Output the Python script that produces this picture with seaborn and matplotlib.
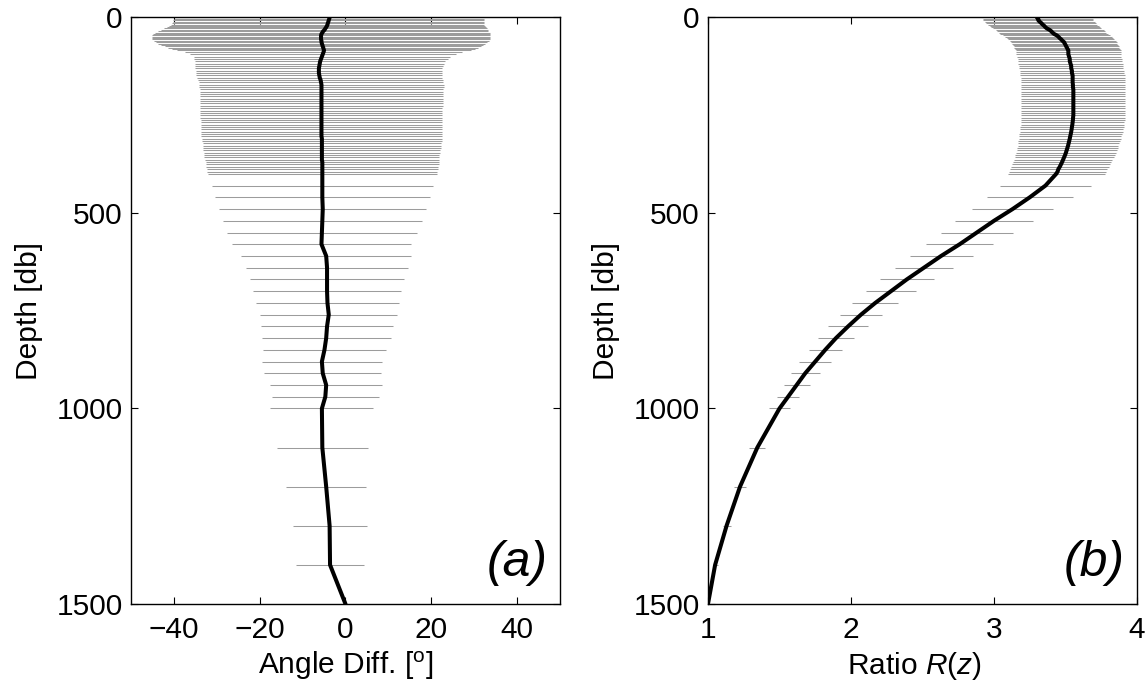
import numpy as np
import matplotlib
matplotlib.use("Agg")
import matplotlib.pyplot as plt
import seaborn as sns

# Pressure levels [db] of the profile statistics
depth = [
    0, 4, 7, 11, 14, 18, 21, 25, 28, 32, 35, 39, 42, 46, 49, 53, 56, 60, 63, 67,
    70, 74, 77, 81, 84, 88,
    94, 100, 106, 112, 118, 124, 130, 136, 142, 148, 154, 160, 166, 172, 178, 184,
    190, 196, 202, 208, 214, 220, 226, 232, 238, 244, 250, 256, 262, 268, 274, 280,
    286, 292, 298, 304, 310, 316, 322, 328, 334, 340, 346, 352, 358, 364, 370, 376,
    382, 388, 394, 400,
    430, 460, 490, 520, 550, 580, 610, 640, 670, 700, 730, 760, 790, 820, 850, 880,
    910, 940, 970, 1000,
    1100, 1200, 1300, 1400, 1500,
]

# (a) mean angle difference [deg] and its standard deviation
angle_mean = [
    -3.7, -3.8, -3.9, -4.0, -4.1, -4.2, -4.3, -4.5, -4.7, -4.9, -5.2, -5.4, -5.6,
    -5.7, -5.7, -5.7, -5.7, -5.6, -5.6, -5.5, -5.4, -5.3, -5.2, -5.1, -5.0, -5.1,
    -5.3, -5.5, -5.7, -5.9, -6.0, -6.1, -6.2, -6.2, -6.2, -6.1, -6.0, -5.8, -5.7,
    -5.6, -5.6, -5.6, -5.6, -5.6, -5.6, -5.6, -5.6, -5.6, -5.6, -5.6, -5.6, -5.6,
    -5.6, -5.6, -5.6, -5.6, -5.6, -5.6, -5.6, -5.6, -5.6, -5.6,
    -5.5, -5.5, -5.5, -5.5, -5.5, -5.5, -5.5, -5.5, -5.5, -5.5,
    -5.4, -5.4, -5.4, -5.4, -5.4, -5.4,
    -5.4, -5.4, -5.3, -5.4, -5.5, -5.6, -4.5, -4.3, -4.3, -4.3, -4.2, -3.9, -4.3,
    -4.5, -4.9, -5.5, -5.3, -4.5, -4.7, -5.5,
    -5.4, -4.5, -3.7, -3.6, 0.0,
]
angle_std = [
    36.2, 36.2, 36.3, 36.3, 36.4, 36.5, 36.8, 37.2, 37.6, 38.1, 38.5, 39.0, 39.3,
    39.5, 39.5, 39.5, 39.3, 39.0, 38.6, 38.1, 37.5, 36.8, 36.2, 35.4, 34.2, 32.3,
    31.0, 29.9, 29.5, 29.2, 29.0, 28.9, 28.8, 28.7, 28.7, 28.7, 28.6, 28.6, 28.5,
    28.5, 28.5, 28.4, 28.4, 28.4, 28.4, 28.3, 28.3, 28.3, 28.3, 28.2, 28.2, 28.2,
    28.2, 28.2, 28.1, 28.1, 28.1, 28.1, 28.1, 28.0, 28.0, 28.0, 27.9, 27.9, 27.8,
    27.8, 27.7, 27.6, 27.5, 27.4, 27.4, 27.3, 27.2, 27.1, 27.0, 26.9, 26.8, 26.7,
    25.7, 25.0, 24.1, 23.2, 22.1, 20.9, 19.8, 18.8, 18.0, 17.2, 16.6, 16.0, 15.4,
    15.0, 14.4, 14.0, 13.6, 13.1, 12.5, 12.0,
    10.6, 9.3, 8.6, 8.0, 0.0,
]

# (b) mean ratio R(z) and its standard deviation
ratio_mean = [
    3.30, 3.31, 3.31, 3.32, 3.33, 3.34, 3.35, 3.36, 3.37, 3.39, 3.40, 3.41, 3.42,
    3.44, 3.45, 3.46, 3.47, 3.48, 3.49, 3.495, 3.50, 3.505, 3.51, 3.515, 3.52, 3.52,
    3.52, 3.525, 3.53, 3.53, 3.535, 3.54, 3.54, 3.545, 3.545, 3.55, 3.55, 3.55,
    3.55, 3.552, 3.552, 3.555, 3.555, 3.555, 3.555, 3.555, 3.555, 3.555, 3.555,
    3.555, 3.555, 3.555, 3.555, 3.553, 3.552, 3.55, 3.548, 3.545, 3.543, 3.54,
    3.537, 3.533, 3.53, 3.526, 3.522, 3.518, 3.513, 3.508, 3.503, 3.497, 3.49,
    3.483, 3.476, 3.468, 3.46, 3.45, 3.445, 3.435,
    3.36, 3.25, 3.13, 3.00, 2.88, 2.76, 2.63, 2.51, 2.39, 2.28, 2.17, 2.07, 1.98,
    1.895, 1.82, 1.75, 1.68, 1.62, 1.56, 1.50,
    1.345, 1.224, 1.13, 1.05, 1.00,
]
ratio_std = [
    0.385, 0.385, 0.385, 0.384, 0.383, 0.382, 0.381, 0.380, 0.379, 0.378, 0.377,
    0.376, 0.375, 0.374, 0.373, 0.372, 0.371, 0.370, 0.369, 0.368, 0.368, 0.367,
    0.367, 0.366, 0.366, 0.366,
    0.366, 0.366, 0.365, 0.365, 0.365, 0.365, 0.365, 0.365, 0.365, 0.365,
    0.364, 0.364, 0.364, 0.364, 0.364, 0.364, 0.364, 0.364, 0.364, 0.364, 0.364,
    0.364, 0.364, 0.364, 0.364, 0.364, 0.364,
    0.363, 0.363, 0.362, 0.362, 0.361, 0.361, 0.360, 0.360,
    0.358, 0.357, 0.355, 0.354, 0.352, 0.351, 0.349, 0.348, 0.347, 0.346, 0.345,
    0.343, 0.342, 0.341, 0.340, 0.339, 0.338,
    0.32, 0.30, 0.285, 0.27, 0.25, 0.235, 0.22, 0.20, 0.19, 0.175, 0.16, 0.15,
    0.14, 0.125, 0.115, 0.11, 0.10, 0.09, 0.08, 0.075,
    0.055, 0.042, 0.028, 0.017, 0.0,
]

angle_ticks = [-40, -20, 0, 20, 40]
ratio_ticks = [1, 2, 3, 4]
depth_ticks = [0, 500, 1000, 1500]

sns.set_theme(style="white")
plt.rcParams["font.family"] = ["Liberation Sans", "DejaVu Sans"]
plt.rcParams["mathtext.fontset"] = "custom"
plt.rcParams["mathtext.rm"] = "Liberation Sans"
plt.rcParams["mathtext.it"] = "Liberation Sans:italic"
plt.rcParams["axes.edgecolor"] = "black"
plt.rcParams["axes.linewidth"] = 1.0

FS = 21.5

fig = plt.figure(figsize=(11.48, 6.96), dpi=100)
ax_a = fig.add_axes([0.1141, 0.1322, 0.3737, 0.8427])
ax_b = fig.add_axes([0.6167, 0.1322, 0.3737, 0.8427])


def draw_panel(ax, mean, std, xlim, xticks, xlabel, tag, xlabel_x):
    d = np.asarray(depth, dtype=float)
    m = np.asarray(mean, dtype=float)
    s = np.asarray(std, dtype=float)
    keep = s > 0
    ax.hlines(d[keep], (m - s)[keep], (m + s)[keep], color="#9c9c9c", lw=0.75)
    sns.lineplot(x=m, y=d, sort=False, estimator=None, orient="y",
                 color="black", lw=2.9, ax=ax)
    ax.set_xlim(*xlim)
    ax.set_ylim(1500, 0)
    ax.set_xticks(xticks)
    ax.set_yticks(depth_ticks)
    ax.tick_params(direction="in", length=5, width=0.8, color="black",
                   top=True, right=True, bottom=True, left=True,
                   labelsize=FS, labelcolor="black")
    ax.tick_params(axis="x", pad=9)
    ax.tick_params(axis="y", pad=6)
    ax.set_xlabel(xlabel, fontsize=FS, color="black")
    ax.set_ylabel("Depth [db]", fontsize=FS, color="black")
    ax.xaxis.set_label_coords(xlabel_x, -0.078)
    ax.yaxis.set_label_coords(-0.205, 0.5)
    for sp in ax.spines.values():
        sp.set_visible(True)
        sp.set_color("black")
    ax.text(0.972, 0.03, tag, transform=ax.transAxes, ha="right", va="bottom",
            fontsize=36, style="italic", color="black")


draw_panel(ax_a, angle_mean, angle_std, (-50, 50), angle_ticks,
           r"Angle Diff. [$^{\mathrm{o}}$]", "(a)", 0.5)
draw_panel(ax_b, ratio_mean, ratio_std, (1, 4), ratio_ticks,
           r"Ratio $R(z)$", "(b)", 0.482)

fig.savefig("out.png", dpi=100)
